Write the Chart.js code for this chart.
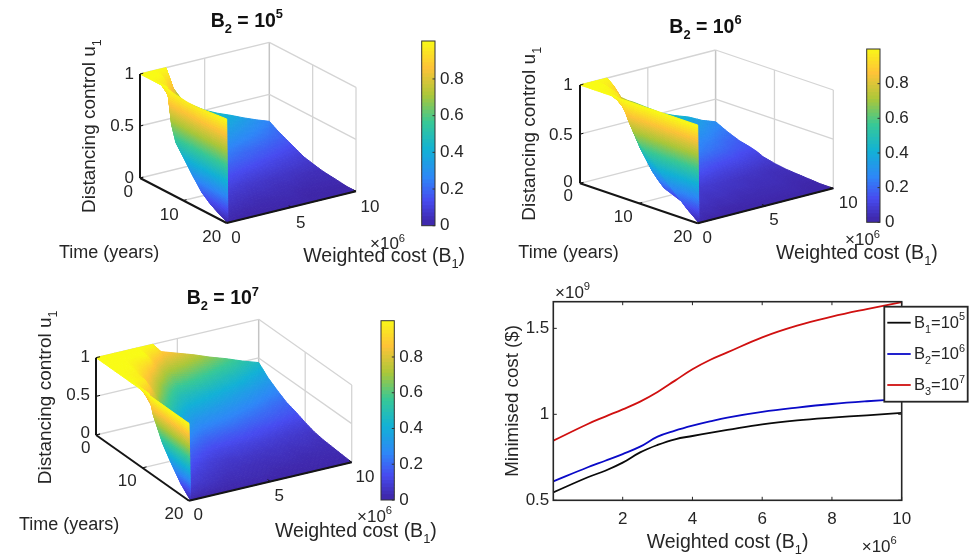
<!DOCTYPE html>
<html><head><meta charset="utf-8">
<style>html,body{margin:0;padding:0;background:#fff;width:977px;height:556px;overflow:hidden}
canvas{position:absolute;left:0;top:0}</style>
<script src="https://cdn.jsdelivr.net/npm/chart.js@4/dist/chart.umd.js"></script>
</head><body>
<script>
// ---------- data ----------
const tGrid=[0,2,4,6,7,8,10,11,12,14,16,18,20];
const bGrid=[0,.1,1,2,2.5,3,3.5,4,5,6,7,8,9,10];
const u1B5=[
[1,1,1,1,.80,.70,.62,.58,.50,.44,.39,.335,.285,.24],
[1,1,1,.80,.64,.56,.50,.46,.40,.35,.31,.27,.23,.19],
[1,1,.87,.62,.50,.44,.39,.36,.31,.27,.24,.21,.18,.15],
[1,1,.62,.44,.35,.31,.28,.26,.22,.19,.17,.15,.13,.11],
[.99,.66,.52,.37,.30,.27,.25,.23,.19,.17,.15,.13,.11,.09],
[.98,.51,.42,.30,.24,.22,.20,.18,.16,.14,.12,.10,.09,.07],
[.97,.39,.28,.20,.16,.15,.13,.12,.10,.09,.08,.07,.06,.05],
[.965,.33,.22,.16,.13,.12,.11,.10,.08,.07,.06,.05,.05,.04],
[.965,.27,.17,.12,.10,.09,.08,.07,.06,.05,.05,.04,.03,.03],
[.97,.16,.10,.07,.06,.05,.05,.04,.04,.03,.03,.02,.02,.02],
[.98,.09,.05,.04,.03,.03,.02,.02,.02,.02,.01,.01,.01,.01],
[.99,.04,.02,.01,.01,.01,.01,.01,.01,.01,0,0,0,0],
[1,0,0,0,0,0,0,0,0,0,0,0,0,0]];
const u1B6=[
[1,1,1,1,.90,.77,.72,.68,.59,.50,.44,.39,.32,.27],
[1,1,1,.86,.70,.60,.56,.53,.46,.39,.34,.30,.25,.21],
[1,1,.96,.66,.54,.46,.43,.41,.35,.30,.26,.23,.19,.16],
[1,1,.77,.53,.43,.37,.35,.33,.28,.24,.21,.18,.15,.13],
[1,.95,.62,.43,.35,.30,.28,.27,.23,.20,.17,.15,.12,.11],
[1,.80,.48,.33,.27,.23,.22,.20,.18,.15,.13,.12,.10,.08],
[1,.62,.29,.20,.16,.14,.13,.12,.11,.09,.08,.07,.06,.05],
[1,.56,.22,.15,.13,.11,.10,.10,.08,.07,.06,.05,.04,.04],
[1,.50,.16,.11,.09,.08,.07,.07,.06,.05,.04,.04,.03,.03],
[1,.35,.11,.08,.06,.05,.05,.05,.04,.04,.03,.03,.02,.02],
[1,.22,.06,.04,.04,.03,.03,.03,.02,.02,.02,.02,.01,.01],
[1,.10,.02,.02,.01,.01,.01,.01,.01,.01,.01,.01,0,0],
[1,0,0,0,0,0,0,0,0,0,0,0,0,0]];
const u1B7=[
[1,1,1,1,1,1,1,.88,.81,.74,.66,.59,.51,.44],
[1,1,1,1,1,.86,.74,.67,.62,.56,.50,.45,.39,.33],
[1,1,1,.88,.76,.65,.56,.49,.45,.41,.37,.33,.29,.25],
[1,1,.96,.72,.60,.50,.42,.37,.34,.31,.28,.25,.21,.18],
[1,1,.96,.62,.52,.43,.36,.32,.29,.27,.24,.21,.18,.16],
[1,1,.85,.54,.45,.37,.31,.27,.25,.23,.20,.18,.16,.14],
[1,1,.56,.35,.29,.24,.20,.18,.16,.15,.13,.12,.10,.09],
[1,1,.45,.28,.23,.19,.16,.14,.13,.12,.11,.09,.08,.07],
[1,.76,.34,.21,.17,.14,.12,.11,.10,.09,.08,.07,.06,.05],
[1,.48,.20,.12,.10,.08,.07,.06,.06,.05,.05,.04,.04,.03],
[1,.29,.11,.07,.06,.05,.04,.04,.03,.03,.03,.02,.02,.02],
[1,.12,.06,.04,.03,.02,.02,.02,.02,.01,.01,.01,.01,.01],
[1,0,0,0,0,0,0,0,0,0,0,0,0,0]];
const uTicks=[0,.5,1], tTicks=[0,10,20], bTicks=[0,5,10];
const barTicks=[0,.2,.4,.6,.8];
const barLevels=[0,.02,.04,.06,.08,.1,.12,.14,.16,.18,.2,.22,.24,.26,.28,.3,.32,.34,.36,.38,.4,.42,.44,.46,.48,.5,.52,.54,.56,.58,.6,.62,.64,.66,.68,.7,.72,.74,.76,.78,.8,.82,.84,.86,.88,.9,.92,.94,.96,.98];
const costB1=[.01,1,1.5,2,2.5,3,3.5,4,4.5,5,6,7,8,9,10];
const costB1e5=[.546,.634,.672,.719,.779,.822,.855,.874,.892,.909,.942,.965,.981,.994,1.008];
const costB1e6=[.61,.692,.73,.769,.812,.87,.905,.934,.959,.981,1.014,1.039,1.06,1.076,1.089];
const costB1e7=[.847,.944,.987,1.029,1.074,1.13,1.196,1.262,1.316,1.36,1.448,1.516,1.568,1.612,1.653];
const costXTicks=[2,4,6,8,10], costYTicks=[.5,1,1.5];
// parula colour stops
const parulaStops=[[0,62,38,168],[.125,71,75,240],[.25,46,135,247],[.4,18,177,214],[.55,55,200,151],[.7,171,199,57],[.85,254,195,56],[1,249,251,21]];

// ---------- helpers ----------
const FONT='"Liberation Sans", Arial, sans-serif', INK='#262626', W=977, H=556;
function parula(v){v=Math.max(0,Math.min(1,v));let i=0;while(i<parulaStops.length-2&&v>parulaStops[i+1][0])i++;
 const a=parulaStops[i],b=parulaStops[i+1],f=(v-a[0])/(b[0]-a[0]);
 return 'rgb('+[1,2,3].map(k=>Math.round(a[k]+(b[k]-a[k])*f)).join(',')+')';}
const parulaLUT=[];for(let i=0;i<=255;i++)parulaLUT.push(parula(i/255));
function addCanvas(){const c=document.createElement('canvas');c.width=W;c.height=H;c.style.width=W+'px';c.style.height=H+'px';document.body.appendChild(c);return c;}
function rich(ctx,runs,x,y,size,o={}){
 ctx.save();ctx.translate(x,y);if(o.rotate)ctx.rotate(-Math.PI/2);ctx.fillStyle=o.color||INK;ctx.textBaseline='alphabetic';ctx.textAlign='left';
 const w=o.bold?'bold ':'';let cx=0;
 for(const r of runs){const s=r.sub||r.sup?size*.66:size;ctx.font=w+s+'px '+FONT;
  const dy=r.sub?size*.3:r.sup?-size*.44:0;ctx.fillText(r.s,cx,dy);cx+=ctx.measureText(r.s).width;}
 ctx.restore();}
function center(ctx,s,x,y,size){ctx.save();ctx.font=size+'px '+FONT;ctx.fillStyle=INK;ctx.textAlign='center';ctx.textBaseline='middle';ctx.fillText(s,x,y);ctx.restore();}
function rightAt(ctx,s,x,y,size){ctx.save();ctx.font=size+'px '+FONT;ctx.fillStyle=INK;ctx.textAlign='right';ctx.textBaseline='middle';ctx.fillText(s,x,y);ctx.restore();}
const scaleTag=(ctx,exp,x,y)=>rich(ctx,[{s:'\u00d710'},{s:exp,sup:1}],x,y,17);

// ---------- 3D panels ----------
function surfacePanel(p){
 const pr=(t,b,u)=>({x:p.o[0]+t/20*p.tv[0]+b/10*p.bv[0],y:p.o[1]+t/20*p.tv[1]+b/10*p.bv[1]+u*p.uv});
 const nodes=[];tGrid.forEach((t,r)=>bGrid.forEach((b,c)=>{const u=p.u[r][c];nodes.push({...pr(t,b,u),u});}));
 const seg=(a,b,label,color,width,order)=>({label,type:'scatter',showLine:true,data:[pr(...a),pr(...b)],borderColor:color,borderWidth:width,pointRadius:0,order});
 const G='#d4d4d4',ds=[];
 uTicks.forEach(v=>{ds.push(seg([0,0,v],[0,10,v],'grid',G,1.3,3));ds.push(seg([0,10,v],[20,10,v],'grid',G,1.3,3));});
 ds.push(seg([0,5,0],[0,5,1],'grid',G,1.3,3),seg([0,10,0],[0,10,1],'grid','#c4c4c4',1.5,3),seg([10,10,0],[10,10,1],'grid',G,1.3,3),seg([20,10,0],[20,10,1],'grid',G,1.3,3));
 ds.push(seg([0,5,0],[20,5,0],'grid',G,1.3,3),seg([10,0,0],[10,10,0],'grid',G,1.3,3));
 ds.push({label:'surface',type:'scatter',data:nodes,pointRadius:0,order:2});
 const A='#151515',AW=2;
 ds.push(seg([0,0,0],[0,0,1],'axis',A,AW,1),seg([0,0,0],[20,0,0],'axis',A,AW,1),seg([20,0,0],[20,10,0],'axis',A,AW,1));
 uTicks.forEach(v=>ds.push(seg([0,0,v],[0,.25,v],'axis',A,1,1)));
 tTicks.forEach(v=>ds.push(seg([v,0,0],[v,.25,0],'axis',A,1,1)));
 bTicks.forEach(v=>ds.push(seg([20,v,0],[19.4,v,0],'axis',A,1,1)));
 const meshPlugin={id:'mesh',afterDatasetDraw(chart,args){
  if(chart.data.datasets[args.index].label!=='surface')return;
  const ctx=chart.ctx,pts=args.meta.data,C=bGrid.length,R=tGrid.length,raw=chart.data.datasets[args.index].data;
  ctx.save();ctx.lineWidth=1;ctx.lineJoin='round';
  for(let c=C-2;c>=0;c--)for(let r=0;r<R-1;r++){
   const i=[r*C+c,r*C+c+1,(r+1)*C+c+1,(r+1)*C+c];
   const P=i.map(k=>pts[k]),U=i.map(k=>raw[k].u);
   const len=(a,b)=>Math.hypot(a.x-b.x,a.y-b.y);
   const nb=Math.max(1,Math.ceil(Math.max(len(P[0],P[1]),len(P[3],P[2]))/2.5));
   const nt=Math.max(1,Math.ceil(Math.max(len(P[0],P[3]),len(P[1],P[2]))/2.5));
   const at=(s,q)=>{const w=[(1-s)*(1-q),s*(1-q),s*q,(1-s)*q];
     return {x:w[0]*P[0].x+w[1]*P[1].x+w[2]*P[2].x+w[3]*P[3].x,y:w[0]*P[0].y+w[1]*P[1].y+w[2]*P[2].y+w[3]*P[3].y,u:w[0]*U[0]+w[1]*U[1]+w[2]*U[2]+w[3]*U[3]};};
   for(let a=nb-1;a>=0;a--)for(let q=0;q<nt;q++){
    const s0=a/nb,s1=(a+1)/nb,q0=q/nt,q1=(q+1)/nt;
    const A0=at(s0,q0),A1=at(s1,q0),A2=at(s1,q1),A3=at(s0,q1);
    const col=parulaLUT[Math.round(255*Math.min(1,(A0.u+A1.u+A2.u+A3.u)/4))];
    ctx.fillStyle=col;ctx.strokeStyle=col;ctx.beginPath();ctx.moveTo(A0.x,A0.y);ctx.lineTo(A1.x,A1.y);ctx.lineTo(A2.x,A2.y);ctx.lineTo(A3.x,A3.y);ctx.closePath();ctx.fill();ctx.stroke();
   }
  }
  ctx.restore();
 }};
 const textPlugin={id:'panelText',afterDraw(chart){const x=chart.ctx,L=p.labels;
  rich(x,[{s:'B'},{s:'2',sub:1},{s:' = 10'},{s:p.exp,sup:1}],L.title[0],L.title[1],19.5,{bold:1,color:'#111'});
  uTicks.forEach((v,i)=>rightAt(x,String(v),L.uTick[0],L.uTick[1][i],17));
  tTicks.forEach((v,i)=>center(x,String(v),L.tTick[i][0],L.tTick[i][1],17));
  bTicks.forEach((v,i)=>center(x,String(v),L.bTick[i][0],L.bTick[i][1],17));
  rich(x,[{s:'Time (years)'}],L.time[0],L.time[1],18);
  scaleTag(x,'6',L.sci[0],L.sci[1]);
  rich(x,[{s:'Weighted cost (B'},{s:'1',sub:1},{s:')'}],L.cost[0],L.cost[1],19.5);
  rich(x,[{s:'Distancing control u'},{s:'1',sub:1}],L.dist[0],L.dist[1],19,{rotate:1});
 }};
 new Chart(addCanvas(),{type:'scatter',data:{datasets:ds},plugins:[meshPlugin,textPlugin],options:{responsive:false,animation:false,devicePixelRatio:1,
  layout:{padding:0},plugins:{legend:{display:false},tooltip:{enabled:false}},
  scales:{x:{type:'linear',display:false,min:0,max:W},y:{type:'linear',display:false,reverse:true,min:0,max:H}},
  elements:{line:{tension:0}}}});
 // colour bar
 const cb=p.bar,LW=40;
 new Chart(addCanvas(),{type:'bar',data:{labels:['u'],datasets:barLevels.map(v=>({label:String(v),data:[[v,v+.03]],backgroundColor:parula(v+.01),grouped:false,barPercentage:1,categoryPercentage:1}))},
  plugins:[{id:'barBox',afterDraw(chart){const a=chart.chartArea,x=chart.ctx,s=chart.scales.y;x.save();x.strokeStyle='#333';x.lineWidth=1;x.strokeRect(a.left,a.top,a.width,a.height);
    barTicks.forEach(v=>{const y=s.getPixelForValue(v);x.beginPath();x.moveTo(a.right-2.5,y);x.lineTo(a.right,y);x.stroke();});x.restore();}}],
  options:{responsive:false,animation:false,devicePixelRatio:1,layout:{padding:{left:cb.l,right:W-cb.r-LW,top:cb.t,bottom:H-cb.b}},
  plugins:{legend:{display:false},tooltip:{enabled:false}},
  scales:{x:{display:false},y:{type:'linear',position:'right',min:0,max:cb.max,grid:{display:false,drawTicks:false},border:{display:false},
    afterBuildTicks(s){s.ticks=barTicks.map(value=>({value}));},afterFit(s){s.width=LW;s.paddingTop=0;s.paddingBottom=0;},
    ticks:{autoSkip:false,padding:5,color:INK,font:{family:FONT,size:17},callback:v=>String(v)}}}}});
}

surfacePanel({u:u1B5,exp:'5',o:[140,178],tv:[86.7,45],bv:[129.3,-31.7],uv:-104,
 bar:{l:421.7,r:435,t:41,b:225.7,max:1.007},
 labels:{title:[210.7,26.7],uTick:[134,[178,126,74]],tTick:[[128.3,192.7],[169.3,215],[211.7,237.3]],bTick:[[236,238.3],[300.7,223.3],[370,207.3]],
  time:[59,257.5],sci:[370,249],cost:[303.3,261.7],dist:[95,213]}});
surfacePanel({u:u1B6,exp:'6',o:[580,183.3],tv:[117.7,40],bv:[135.6,-35],uv:-98.3,
 bar:{l:866.7,r:880,t:49,b:222.3,max:1},
 labels:{title:[669.3,32.7],uTick:[572.7,[182.7,135,85]],tTick:[[568.3,196.7],[623.3,217.3],[682.7,237.3]],bTick:[[707.3,238.3],[774,220],[848.3,203.3]],
  time:[518.3,257.5],sci:[845,245],cost:[776,259.3],dist:[535,220.7]}});
surfacePanel({u:u1B7,exp:'7',o:[96,435],tv:[93,65.7],bv:[162.7,-38.4],uv:-77.3,
 bar:{l:381,r:394.3,t:320.7,b:500,max:1.003},
 labels:{title:[186.7,304.3],uTick:[90,[433.3,395.7,357.7]],tTick:[[85.7,448.3],[127.3,481.7],[174,514.3]],bTick:[[198.3,515.7],[279.3,496.7],[365,477.3]],
  time:[19,530],sci:[357,521.7],cost:[275,536.7],dist:[51,484.3]}});

// ---------- 2D cost panel ----------
const series=[['B1=10^5',costB1e5,'#0a0a0a'],['B2=10^6',costB1e6,'#0a0ac8'],['B3=10^7',costB1e7,'#d01010']];
const legendRuns=[[{s:'B'},{s:'1',sub:1},{s:'=10'},{s:'5',sup:1}],[{s:'B'},{s:'2',sub:1},{s:'=10'},{s:'6',sup:1}],[{s:'B'},{s:'3',sub:1},{s:'=10'},{s:'7',sup:1}]];
new Chart(addCanvas(),{type:'line',data:{labels:costB1,datasets:series.map(s=>({label:s[0],data:s[1].map((y,i)=>({x:costB1[i],y})),borderColor:s[2],borderWidth:1.8,pointRadius:0,tension:.4}))},
 plugins:[{id:'costFrame',afterDraw(chart){const a=chart.chartArea,x=chart.ctx,sx=chart.scales.x,sy=chart.scales.y;
   x.save();x.strokeStyle='#262626';x.lineWidth=1.6;x.strokeRect(a.left,a.top,a.width,a.height);x.lineWidth=1;
   costXTicks.forEach(v=>{const p=sx.getPixelForValue(v);x.beginPath();x.moveTo(p,a.bottom);x.lineTo(p,a.bottom-3.5);x.moveTo(p,a.top);x.lineTo(p,a.top+3.5);x.stroke();});
   costYTicks.forEach(v=>{const p=sy.getPixelForValue(v);x.beginPath();x.moveTo(a.left,p);x.lineTo(a.left+3.5,p);x.moveTo(a.right,p);x.lineTo(a.right-3.5,p);x.stroke();});
   x.fillStyle='#fff';x.fillRect(884.3,306.7,83.4,95);x.lineWidth=1.8;x.strokeRect(884.3,306.7,83.4,95);
   series.forEach((s,i)=>{const y=[322.7,354,385][i];x.strokeStyle=s[2];x.lineWidth=1.8;x.beginPath();x.moveTo(887.3,y);x.lineTo(910.7,y);x.stroke();
     rich(x,legendRuns[i],914,[327.7,359,390][i],16.5);});
   x.restore();
   scaleTag(x,'9',555,297.7);scaleTag(x,'6',861.7,551.7);
   rich(x,[{s:'Weighted cost (B'},{s:'1',sub:1},{s:')'}],646.7,548.3,19.5);
   rich(x,[{s:'Minimised cost ($)'}],518,476.7,18.7,{rotate:1});
 }}],
 options:{responsive:false,animation:false,devicePixelRatio:1,layout:{padding:{left:493.3,right:75.3,top:301.7,bottom:5.7}},
 plugins:{legend:{display:false},tooltip:{enabled:false}},
 scales:{x:{type:'linear',min:.01,max:10,grid:{display:false,drawTicks:false},border:{display:false},
   afterBuildTicks(s){s.ticks=costXTicks.map(value=>({value}));},afterFit(s){s.height=50;s.paddingLeft=0;s.paddingRight=0;},
   ticks:{autoSkip:false,maxRotation:0,padding:9,color:INK,font:{family:FONT,size:17},callback:v=>String(v)}},
  y:{type:'linear',min:.5,max:1.655,grid:{display:false,drawTicks:false},border:{display:false},
   afterBuildTicks(s){s.ticks=costYTicks.map(value=>({value}));},afterFit(s){s.width=60;s.paddingTop=0;s.paddingBottom=0;},
   ticks:{autoSkip:false,padding:4,color:INK,font:{family:FONT,size:17},callback:v=>String(v)}}}}});
</script>
</body></html>
